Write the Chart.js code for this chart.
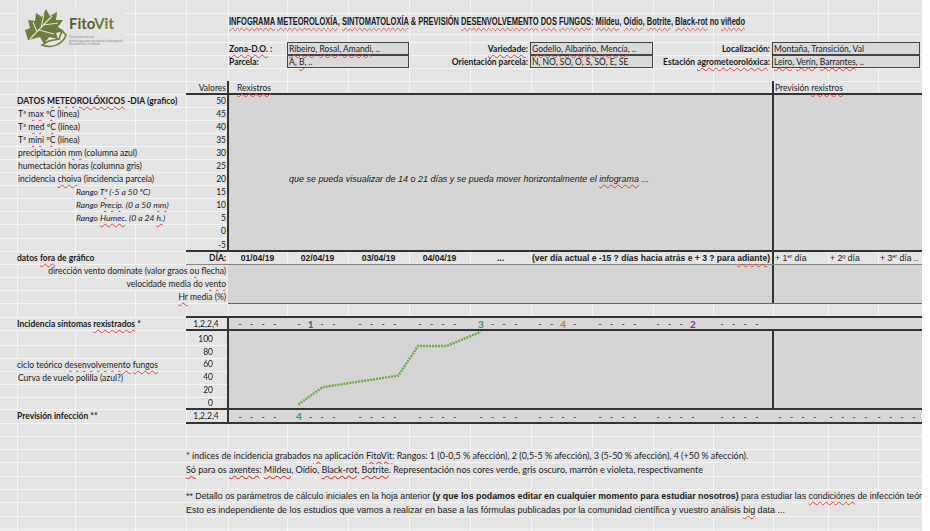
<!DOCTYPE html>
<html lang="gl">
<head>
<meta charset="utf-8">
<title>Infograma FitoVit</title>
<script src="https://cdn.jsdelivr.net/npm/chart.js@4.4.1/dist/chart.umd.min.js"></script>
<style>
  html, body { margin: 0; padding: 0; background: #fff; }
  #sheet { position: relative; width: 930px; height: 531px; overflow: hidden; background: #fff;
           font-family: Lato, "Open Sans", sans-serif; font-size: 8.5px; color: #1a1a1a; }
  .t { position: absolute; white-space: nowrap; line-height: 12px; height: 12px; }
  .b { font-weight: bold; }
  .i { font-style: italic; }
  .ar { font-family: "Liberation Sans", Arial, sans-serif; }
  .nar { font-family: "Liberation Sans Narrow", "Liberation Sans", sans-serif; }
  .ov { background: #e4e4e4; }
  .sp { text-decoration: underline wavy #e0403a; text-decoration-thickness: 0.7px;
        text-underline-offset: 1.5px; text-decoration-skip-ink: none; }
  .blk { position: absolute; }
  sup { font-size: 5.5px; vertical-align: 3px; line-height: 0; }
  #clip { position: absolute; left: 17px; top: 0; width: 169px; height: 531px; overflow: hidden; }
  #cicloWrap { position: absolute; left: 186px; top: 330px; width: 587px; height: 79px; }
</style>
</head>
<body>
<div id="sheet">
  <div id="clip"></div>
  <div id="cicloWrap"><canvas id="cicloChart"></canvas></div>
</div>

<script>
// ---- datos ----
const valoresMeteo = [50, 45, 40, 35, 30, 25, 20, 15, 10, 5, 0, -5];
const etiquetasMeteo = [
    'DATOS <span class="sp">METEOROLÓXICOS</span> -DIA (grafico)',
    'Tª <span class="sp">max</span> <span class="sp">ºC</span> (línea)',
    'Tª <span class="sp">med</span> <span class="sp">ºC</span> (línea)',
    'Tª <span class="sp">mini</span> <span class="sp">ºC</span> (línea)',
    'precipitación <span class="sp">mm</span>  (columna azul)',
    'humectación horas (columna gris)',
    'incidencia <span class="sp">choiva</span> (incidencia parcela)',
    'Rango <span class="sp">Tª</span> (-5 a 50 ºC)',
    'Rango <span class="sp">Precip</span>. (0 a 50 <span class="sp">mm</span>)',
    'Rango <span class="sp">Humec</span>. (0 a 24 <span class="sp">h.</span>)',
    '', ''
];
const datas = ['01/04/19', '02/04/19', '03/04/19', '04/04/19', '...'];
const diasPrevision = ['+ 1<sup>er</sup> día', '+ 2º día', '+ 3<sup>er</sup> día ..'];

// ciclo teórico desenvolvemento fungos (eixo x en días desde 01/04/19)
const cicloDias = [1.16, 1.56, 2.81, 3.14, 3.61, 4.17];
const cicloValores = [-2, 25, 43, 89, 89, 111];
const yTicks = [100, 80, 60, 40, 20, 0];

// incidencias: día (columna), posición dentro do día, nivel e axente
const coresAxente = { mildeu: '#2e9a5c', oidio: '#595959', blackrot: '#b8860b', botrite: '#9a2aa8' };
const incidenciaRexistrada = [
    { dia: 1, pos: 1, nivel: 1, axente: 'oidio' },
    { dia: 4, pos: 0, nivel: 3, axente: 'mildeu' },
    { dia: 5, pos: 2, nivel: 4, axente: 'blackrot' },
    { dia: 7, pos: 3, nivel: 2, axente: 'botrite' }
];
const previsionInfeccion = [
    { dia: 1, pos: 0, nivel: 4, axente: 'mildeu' }
];

// ---- folla ----
const sheet = document.getElementById('sheet');
const clip = document.getElementById('clip');
const wrap = document.getElementById('cicloWrap');
const BG = '#e4e4e4', GRID = '#f5f5f5', GRAY = '#d4d4d4', DARK = '#333';
const cols = [17, 75, 135, 186, 228, 287, 348, 409, 470, 531, 592, 653, 713, 773, 828, 878, 922];
const dayCols = cols.slice(4);
const rows = [13, 34, 42, 55, 68, 81, 94, 107, 120, 133, 146, 159.5, 172.5, 185.5, 198.5, 211.5, 224.5, 238, 251,
    264.5, 277.5, 290.5, 303.5, 317, 330, 345.5, 358.5, 371.5, 384.5, 397, 409, 423,
    436.3, 449.6, 462.9, 476.2, 489.5, 502.8, 516.1, 529.4];

function box(x, y, w, h, bg, extra) {
    const d = document.createElement('div');
    d.className = 'blk';
    Object.assign(d.style, { left: x + 'px', top: y + 'px', width: w + 'px', height: h + 'px', background: bg });
    if (extra) Object.assign(d.style, extra);
    sheet.insertBefore(d, clip);
    return d;
}
function hline(x1, x2, y, c, w) { return box(x1, y - w / 2, x2 - x1, w, c); }
function vline(x, y1, y2, c, w) { return box(x - w / 2, y1, w, y2 - y1, c); }

function text(x, y, html, cls, align, fitW, parent) {
    const d = document.createElement('div');
    d.className = 't ' + (cls || '');
    d.innerHTML = html;
    d.style.top = (y - 6) + 'px';
    if (align === 'right') {
        d.style.right = (930 - x) + 'px';
        d.style.transformOrigin = 'right center';
    } else if (align === 'center') {
        d.style.left = x + 'px';
        d.style.transform = 'translateX(-50%)';
    } else {
        d.style.left = x + 'px';
        d.style.transformOrigin = 'left center';
    }
    if (fitW) d.dataset.fit = fitW;
    if (parent) parent.appendChild(d);
    else sheet.insertBefore(d, wrap);
    return d;
}
const mid = i => (rows[i] + rows[i + 1]) / 2;

// fondo e reixa
box(0, 0, 922, 531, BG);
cols.forEach(x => vline(x, 0, 531, GRID, 1));
rows.forEach(y => hline(0, 922, y, GRID, 1));

// zonas grises
box(228, 94, 694, 157, GRAY);
box(228, 264.5, 694, 39, GRAY);
box(228, 317, 694, 13, '#d7d7d7');
box(228, 330, 694, 79, GRAY);
box(228, 409, 694, 14, '#d7d7d7');

// bordes
hline(186, 922, 94, DARK, 2);
vline(228, 81, 251, DARK, 1.5);
vline(773, 81, 303.5, DARK, 1.5);
hline(186, 922, 251, DARK, 2);
hline(186, 922, 264.5, '#888', 1);
hline(228, 922, 303.5, '#666', 1.5);
hline(186, 922, 317, DARK, 2);
hline(186, 922, 330, DARK, 2);
vline(228, 317, 423, DARK, 1.5);
vline(773, 330, 409, DARK, 1.5);
hline(186, 922, 409, DARK, 2);
hline(186, 922, 423, DARK, 2);

// logo
box(19, 7, 106, 42, BG);
const logo = box(22, 6, 46, 42, 'transparent');
logo.innerHTML = '<svg width="46" height="42" viewBox="0 0 46 42">' +
    '<path d="M20,39 C30,43 41,38 44,29 L40,25 L37,33 L27,35 Z" fill="#e8e8e8" stroke="#6e7d3c" stroke-width="1.6"/>' +
    '<path d="M6,34 L3,24 L8,22 L6,14 L13,15 L14,7 L20,11 L24,3 L28,10 L35,6 L34,14 L41,14 L36,21 L42,25 L34,27 L36,33 L27,31 L22,38 L18,31 Z" fill="#6e7d3c"/>' +
    '<path d="M8,33 L30,10 M15,26 L11,16 M19,22 L22,8 M22,19 L36,17 M17,24 L32,28" stroke="#dfe3d2" stroke-width="1.1" fill="none"/>' +
    '</svg>';
text(69, 23, '<span style="color:#58622e">Fito</span><span style="color:#6f7c37">Vit</span>', 'b', 'left', 45).style.fontSize = '15px';
['Desenvolvemento', 'dunha app para servizo de información', 'fitosanitaria en viñedo'].forEach((s, i) => {
    const d = text(69, 37 + i * 3.6, s, '', 'left');
    d.style.fontSize = '3.2px'; d.style.color = '#8a8a8a'; d.style.lineHeight = '4px'; d.style.height = '4px'; d.style.top = (35 + i * 3.6) + 'px';
});

// título
text(229, 21,
    '<span class="sp">INFOGRAMA</span> <span class="sp">METEOROLOXÍA</span>, <span class="sp">SINTOMATOLOXÍA</span> &amp; PREVISIÓN <span class="sp">DESENVOLVEMENTO</span> <span class="sp">DOS</span> <span class="sp">FUNGOS</span>: <span class="sp">Mildeu</span>, <span class="sp">Oídio</span>, <span class="sp">Botrite</span>, <span class="sp">Black-rot</span> no <span class="sp">viñedo</span>',
    'b nar ov', 'left', 516).style.fontSize = '11px';

// cabeceira de parcela
const caixa = { background: '#d9d9d9', border: '1px solid #444', boxSizing: 'border-box' };
box(287, 42, 122, 13, '', caixa); box(287, 55, 122, 13, '', caixa);
box(530, 42, 123, 13, '', caixa); box(530, 55, 123, 13, '', caixa);
box(772, 42, 148, 13, '', caixa); box(772, 55, 148, 13, '', caixa);
text(229, 48.5, '<span class="sp">Zona-D.O.</span> :', 'b');
text(229, 61.5, 'Parcela:', 'b');
text(289, 48.5, '<span class="sp">Ribeiro</span>, <span class="sp">Rosal</span>, <span class="sp">Amandi</span>, ..');
text(289, 61.5, 'A, <span class="sp">B</span>, ..');
text(528, 48.5, '<span class="sp">Variedade</span>:', 'b', 'right');
text(528, 61.5, 'Orientación parcela:', 'b', 'right');
text(532, 48.5, '<span class="sp">Godello</span>, <span class="sp">Albariño</span>, <span class="sp">Mencía</span>, ..');
text(532, 61.5, 'N, NO, SO, O, S, SO, E, SE');
text(770, 48.5, 'Localización:', 'b', 'right');
text(770, 61.5, 'Estación <span class="sp">agrometeorolóxica</span>:', 'b', 'right');
text(774, 48.5, 'Montaña, Transición, Val');
text(774, 61.5, '<span class="sp">Leiro</span>, <span class="sp">Verín</span>, <span class="sp">Barrantes</span>, ..');

// rexistros
text(226, 87.5, 'Valores', '', 'right');
text(237, 87.5, '<span class="sp">Rexistros</span>');
text(775, 87.5, 'Previsión <span class="sp">rexistros</span>');
const sangria = [0, 1, 1, 1, 1, 1, 1, 59, 59, 59, 0, 0];
etiquetasMeteo.forEach((lab, i) => {
    if (lab) text(sangria[i], mid(6 + i), lab, (i === 0 ? 'b ' : '') + (i >= 7 ? 'i ' : '') + 'ov', 'left', null, clip);
    text(226, mid(6 + i), String(valoresMeteo[i]), '', 'right');
});
text(289, 179, 'que se pueda visualizar de 14 o 21 días y se pueda mover horizontalmente el <span class="sp">infograma</span> ...', 'i ar', 'left', 360).style.fontSize = '9px';

// fila DÍA
text(0, 258, 'datos <span class="sp">fora</span> de gráfico', 'b ov', 'left', null, clip);
text(226, 258, 'DÍA:', 'b', 'right');
datas.forEach((d, i) => text((dayCols[i] + dayCols[i + 1]) / 2, 258, d, 'b ar', 'center').style.fontSize = '8.6px');
text(532, 258, '(ver día actual e -15 ? días hacia atrás e + 3 ? para <span class="sp">adiante</span>)', 'b nar', 'left', 238).style.fontSize = '9px';
diasPrevision.forEach((d, i) => text(dayCols[9 + i] + 2, 258, d, 'nar').style.fontSize = '8.6px');
text(226, 271, 'dirección vento dominate (valor graos <span class="sp">ou</span> flecha)', 'ov', 'right');
text(226, 284, 'velocidade media do <span class="sp">vento</span>', 'ov', 'right');
text(226, 297, '<span class="sp">Hr</span> media (%)', 'ov', 'right');

// incidencias
text(0, 323.5, 'Incidencia síntomas <span class="sp">rexistrados</span> *', 'b ov', 'left', null, clip);
text(0, 365, 'ciclo teórico <span class="sp">desenvolvemento</span> <span class="sp">fungos</span>', 'ov', 'left', null, clip);
text(1, 378, 'Curva de vuelo polilla (azul?)', 'ov', 'left', null, clip);
text(0, 416, 'Previsión infección **', 'b ov', 'left', null, clip);
text(206, 323.5, '1,2,2,4', '', 'center');
text(206, 416, '1,2,2,4', '', 'center');

const desprazamento = [12, 12, 12, 11, 11, 9, 8, 5, 9, 7, 3, 1];
function filaMarcas(y, nDias, marcas) {
    for (let d = 0; d < nDias; d++) {
        for (let p = 0; p < 4; p++) {
            const x = dayCols[d] + desprazamento[d] + p * 11.6;
            const m = marcas.find(e => e.dia === d && e.pos === p);
            if (m) {
                const el = text(x, y, String(m.nivel), 'b', 'center');
                el.style.color = coresAxente[m.axente];
                el.style.fontSize = '10px';
            } else {
                const el = text(x, y + 0.5, '-', 'b', 'center');
                el.style.color = '#555';
            }
        }
    }
}
filaMarcas(323.5, 9, incidenciaRexistrada);
filaMarcas(416, 12, previsionInfeccion);

// notas
text(186, 456, '* índices de incidencia grabados <span class="sp">na</span> aplicación <span class="sp">FitoVit</span>:  Rangos: 1 (0-0,5 % afección), 2  (0,5-5 % afección), 3  (5-50 % afección), 4  (+50 % afección).', 'ov', 'left', 562);
text(186, 469.5, '<span class="sp">Só</span> para os <span class="sp">axentes</span>: <span class="sp">Mildeu</span>, Oídio, <span class="sp">Black-rot</span>, <span class="sp">Botrite</span>. Representación nos cores verde, gris oscuro, marrón e violeta, respectivamente', 'ov', 'left', 517);
text(186, 496, '** Detallo os parámetros de cálculo iniciales en la hoja anterior <b>(y que los podamos editar en cualquier momento para estudiar nosotros)</b> para estudiar las <span class="sp">condiciónes</span> de infección teóri', 'nar ov', 'left', 738).style.fontSize = '9.5px';
text(186, 509.5, 'Esto es independiente de los estudios que vamos a realizar en base a las fórmulas publicadas por la comunidad científica y vuestro análisis <span class="sp">big</span> data ...', 'nar ov', 'left', 599).style.fontSize = '9.5px';

// borde dereito branco
sheet.insertBefore(clip, wrap);
const borde = box(922, 0, 8, 531, '#fff');
sheet.insertBefore(borde, wrap);

// axustar anchos de texto
document.querySelectorAll('[data-fit]').forEach(el => {
    const w = el.getBoundingClientRect().width;
    if (w > 0) el.style.transform = 'scaleX(' + (Number(el.dataset.fit) / w) + ')';
});

// ---- gráfico ----
const cicloChart = new Chart(document.getElementById('cicloChart'), {
    type: 'line',
    data: {
        datasets: [{
            label: 'Ciclo teórico desenvolvemento fungos',
            data: cicloDias.map((d, i) => ({ x: d, y: cicloValores[i] })),
            borderColor: '#6aad3d',
            borderWidth: 2.4,
            borderDash: [2, 1],
            pointRadius: 0,
            tension: 0,
            fill: false
        }]
    },
    options: {
        responsive: true,
        maintainAspectRatio: false,
        animation: false,
        layout: { padding: 0 },
        plugins: { legend: { display: false }, tooltip: { enabled: false } },
        scales: {
            x: { type: 'linear', min: 0, max: 9, display: false },
            y: {
                min: -8.9,
                max: 114,
                grid: { display: false, drawTicks: false },
                border: { display: false },
                afterBuildTicks: s => { s.ticks = yTicks.map(v => ({ value: v })); },
                afterFit: s => { s.width = 42; s.paddingTop = 0; s.paddingBottom = 0; },
                ticks: { autoSkip: false, padding: 15, color: '#222', font: { family: 'Lato', size: 8.5 } }
            }
        }
    }
});
</script>
</body>
</html>
